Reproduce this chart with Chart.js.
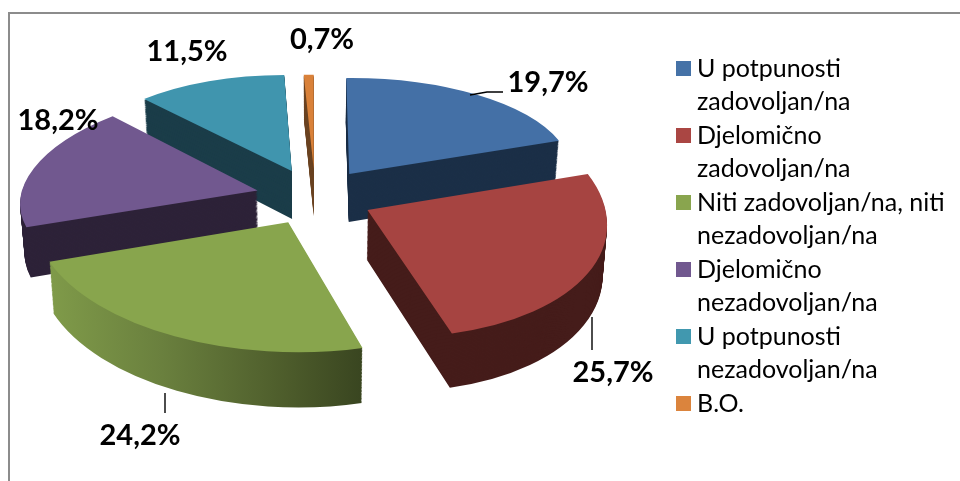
<!DOCTYPE html>
<html><head><meta charset="utf-8">
<style>html,body{margin:0;padding:0;background:#fff;overflow:hidden}canvas{display:block}</style>
<script src="https://cdn.jsdelivr.net/npm/chart.js@4"></script>
</head><body><canvas id="c" width="960" height="481"></canvas>
<script>
const categories = [
  ['U potpunosti','zadovoljan/na'],
  ['Djelomično','zadovoljan/na'],
  ['Niti zadovoljan/na, niti','nezadovoljan/na'],
  ['Djelomično','nezadovoljan/na'],
  ['U potpunosti','nezadovoljan/na'],
  ['B.O.']
];
const values = [19.7, 25.7, 24.2, 18.2, 11.5, 0.7];
const topColors = ['#4470a6','#a64441','#88a54d','#71588f','#4095ae','#d98139'];
const sideColors = ['#1b2f47','#451c1a',null,'#2d2238','#1b3d49','#6b4423'];
const legendColors = ['#4572a7','#aa4643','#89a54e','#71588f','#4198af','#db843d'];

// 3D look: per-slice projection of the unit pie [xx, xy, yx, yy]
const sliceProjection = [
  [223, 3, -2, 96],
  [239, 17, 6, 127],
  [254, 2, 4, 130],
  [236, -26, -2, 105],
  [215, -2, 4, 96],
  [227, 0, 0, 94]
];
const drawOrder = [5, 4, 0, 3, 1, 2];
const view = {cx: 315, cy: 197, explode: 59, squash: 0.48, depth: 48, depthGrow: 0.04, depthRefY: 172, bottomShrink: 0.985};

const labelX = [548, 613, 140, 58, 187, 322];
const labelY = [83, 373, 436, 121, 52, 40];
const leaders = {0: [[470, 95], [487, 92], [503, 92]], 1: [[592, 317], [592, 350]], 2: [[165, 393], [165, 413]]};

const pie3d = {
  id: 'pie3d',
  beforeDraw(chart) {
    const ctx = chart.ctx;
    ctx.save();
    ctx.strokeStyle = '#8c8c8c';
    ctx.lineWidth = 2;
    ctx.beginPath();
    ctx.moveTo(9, 481); ctx.lineTo(9, 13); ctx.lineTo(960, 13);
    ctx.stroke();
    ctx.restore();
  },
  afterLayout(chart) {
    const lg = chart.legend;
    lg.left = 682.5;
    lg.top = 56;
    lg.draw = function () { lg._draw(); }; // swatches reach left of the legend box: no clip
  },
  beforeDatasetDraw(chart, args) {
    const ctx = chart.ctx, meta = args.meta;
    drawOrder.forEach(i => {
      const el = meta.data[i], m = sliceProjection[i];
      const R = el.outerRadius, mid = (el.startAngle + el.endAngle) / 2;
      const ax = view.cx + view.explode * Math.cos(mid);
      const ay = view.cy + view.explode * Math.sin(mid) * view.squash;
      const place = t => { // t = 0 top face, t = 1 bottom face
        const sx = 1 + (view.bottomShrink - 1) * t;
        const sy = 1 + view.depthGrow * t;
        const tx = view.cx + (ax - view.cx) * sx;
        const ty = ay + (view.depth + (ay - view.depthRefY) * view.depthGrow) * t;
        ctx.setTransform(m[0] / R * sx, m[2] / R * sy, m[1] / R * sx, m[3] / R * sy,
          tx - (m[0] * el.x + m[1] * el.y) / R * sx,
          ty - (m[2] * el.x + m[3] * el.y) / R * sy);
      };
      const orig = el.options;
      let side = sideColors[i];
      if (!side) {
        side = ctx.createLinearGradient(el.x - 0.94 * R, 0, el.x + 0.29 * R, 0);
        side.addColorStop(0, '#7f9a49');
        side.addColorStop(0.35, '#6a803e');
        side.addColorStop(0.75, '#4d5c2b');
        side.addColorStop(1, '#394520');
      }
      el.options = Object.assign({}, orig, {backgroundColor: side, borderWidth: 0});
      ctx.save();
      for (let s = 40; s >= 1; s--) { place(s / 40); el.draw(ctx, chart.chartArea); ctx.setTransform(1,0,0,1,0,0); }
      ctx.restore();
      el.options = Object.assign({}, orig, {backgroundColor: topColors[i], borderWidth: 0});
      ctx.save();
      place(0); el.draw(ctx, chart.chartArea);
      ctx.restore();
      el.options = orig;
    });
    return false;
  },
  afterDatasetsDraw(chart) {
    const ctx = chart.ctx;
    ctx.save();
    ctx.setTransform(1,0,0,1,0,0);
    ctx.strokeStyle = '#000';
    ctx.lineWidth = 1.4;
    Object.values(leaders).forEach(pts => {
      ctx.beginPath();
      pts.forEach((p, k) => k ? ctx.lineTo(p[0], p[1]) : ctx.moveTo(p[0], p[1]));
      ctx.stroke();
    });
    ctx.fillStyle = '#000';
    ctx.font = 'bold 29px Lato';
    ctx.textAlign = 'center';
    ctx.textBaseline = 'middle';
    values.forEach((v, i) => ctx.fillText(v.toFixed(1).replace('.', ',') + '%', labelX[i], labelY[i]));
    ctx.restore();
  }
};

new Chart(document.getElementById('c'), {
  type: 'pie',
  data: {labels: categories, datasets: [{data: values, backgroundColor: legendColors, borderWidth: 0}]},
  options: {
    responsive: false,
    animation: false,
    layout: {padding: {top: 20, bottom: 20}},
    plugins: {
      tooltip: {enabled: false},
      legend: {
        position: 'right',
        align: 'start',
        labels: {
          boxWidth: 2, boxHeight: 2, padding: 0, color: '#111',
          font: {family: 'Lato', size: 25, lineHeight: 1.34},
          generateLabels(chart) {
            return categories.map((c, i) => ({text: c, fillStyle: legendColors[i], strokeStyle: legendColors[i], lineWidth: 13, lineJoin: 'miter', hidden: false, index: i}));
          }
        }
      }
    }
  },
  plugins: [pie3d]
});
</script></body></html>
